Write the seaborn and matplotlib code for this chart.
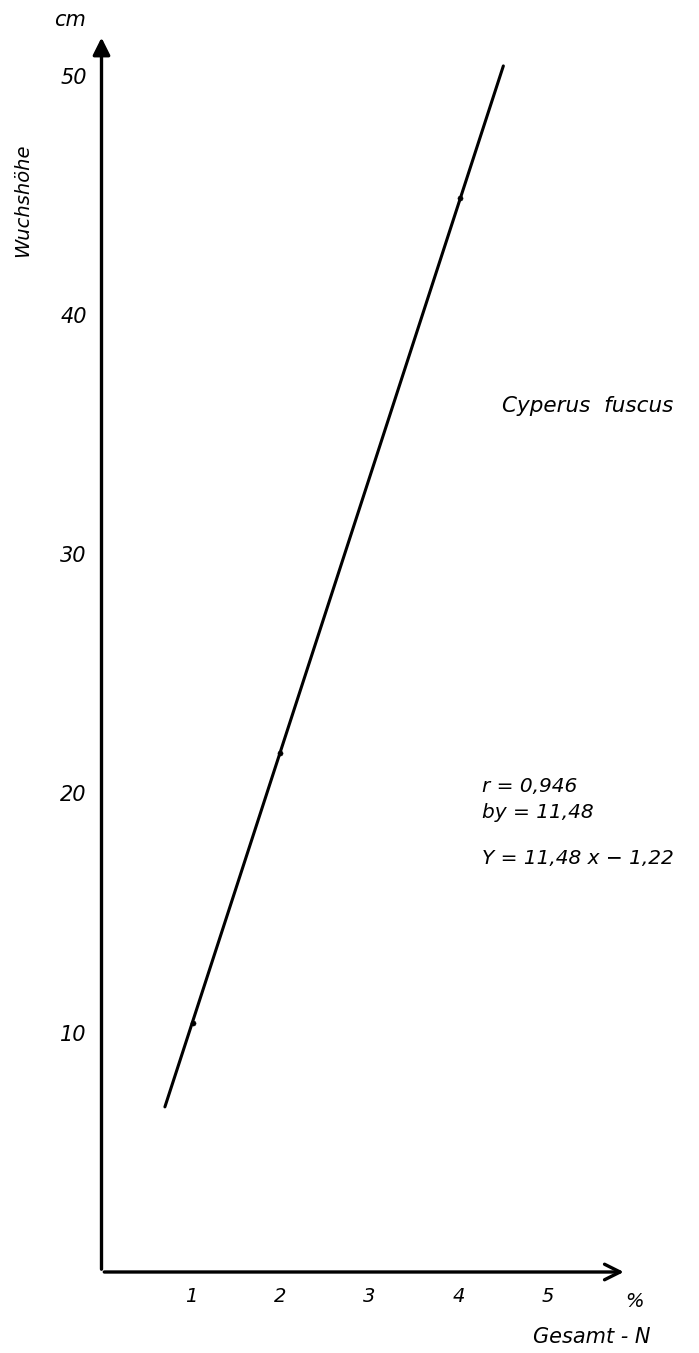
import matplotlib
matplotlib.use('Agg')
import matplotlib.pyplot as plt
import seaborn as sns
import pandas as pd

# Werte
gesamt_n = [0.71, 4.50]        # Endpunkte der Regressionsgeraden (% Gesamt-N)
wuchshoehe = [6.9, 50.4]       # Wuchshöhe in cm
punkt_n = [1.02, 2.0, 4.02]    # markierte Punkte auf der Geraden
punkt_h = [10.4, 21.7, 44.9]
x_ticks = [1, 2, 3, 4, 5]
y_ticks = [10, 20, 30, 40, 50]
stat_text = ['r = 0,946', 'by = 11,48', 'Y = 11,48 x − 1,22']

sns.set_style('white')
plt.rcParams['font.family'] = ['DejaVu Sans']
plt.rcParams['text.color'] = 'black'
plt.rcParams['xtick.labelcolor'] = 'black'
plt.rcParams['ytick.labelcolor'] = 'black'

line_df = pd.DataFrame({'n': gesamt_n, 'h': wuchshoehe})
pts_df = pd.DataFrame({'n': punkt_n, 'h': punkt_h})

fig = plt.figure(figsize=(6.99, 13.53), dpi=100)
ax = fig.add_axes([101.5 / 699, 81 / 1353, 6 * 89.3 / 699, 52 * 23.93 / 1353])

sns.lineplot(data=line_df, x='n', y='h', ax=ax, color='black', lw=2.2)
sns.scatterplot(data=pts_df, x='n', y='h', ax=ax, color='black', s=14, edgecolor='black')

ax.set_xlim(0, 6)
ax.set_ylim(0, 52)
for s in ax.spines.values():
    s.set_visible(False)

# Achsen als Pfeile
ax.annotate('', xy=(5.88, 0), xytext=(0, 0),
            arrowprops=dict(arrowstyle='->', lw=2.4, color='black', mutation_scale=28),
            annotation_clip=False)
ax.annotate('', xy=(0, 51.7), xytext=(0, 0),
            arrowprops=dict(arrowstyle='-|>', lw=2.4, color='black', mutation_scale=26),
            annotation_clip=False)

ax.set_xticks(x_ticks)
ax.set_yticks(y_ticks)
ax.set_xticklabels([str(v) for v in x_ticks], fontsize=14, style='italic')
ax.set_yticklabels([str(v) for v in y_ticks], fontsize=15, style='italic')
ax.tick_params(axis='both', direction='inout', length=9, width=1.8, color='black', pad=6)
ax.set_xlabel('')
ax.set_ylabel('')

ax.text(-0.35, 52.3, 'cm', fontsize=15, style='italic', ha='center', va='center')
ax.text(-0.88, 44.8, 'Wuchshöhe', fontsize=14, style='italic', rotation=90,
        ha='center', va='center')
ax.text(5.97, -1.25, '%', fontsize=14, style='italic', ha='center', va='center')
ax.text(5.49, -2.72, 'Gesamt - N', fontsize=15, style='italic', ha='center', va='center')
ax.text(5.45, 36.2, 'Cyperus  fuscus', fontsize=15.5, style='italic', ha='center', va='center')

for txt, yy in zip(stat_text, [20.3, 19.2, 17.3]):
    ax.text(4.26, yy, txt, fontsize=14.5, style='italic', ha='left', va='center')

fig.savefig('out.png', dpi=100)
